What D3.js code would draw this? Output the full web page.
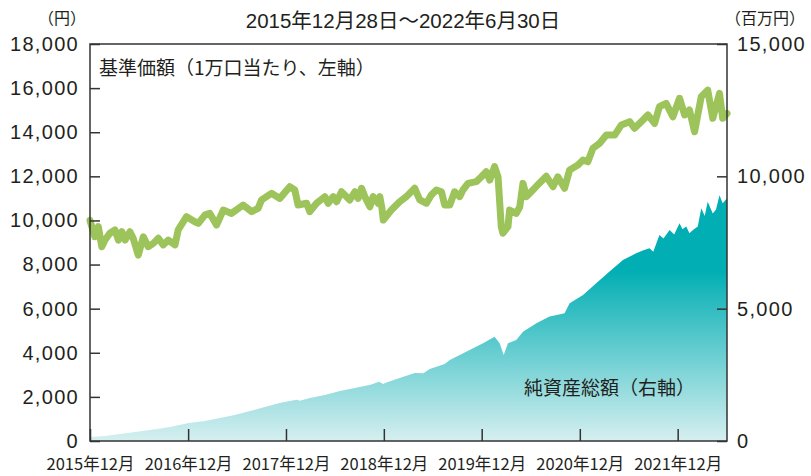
<!DOCTYPE html>
<html lang="ja">
<head>
<meta charset="utf-8">
<script src="https://cdn.jsdelivr.net/npm/d3@7"></script>
<style>
body { margin: 0; background: #fff; }
text { font-family: "Liberation Sans", "Noto Sans CJK JP", sans-serif; fill: #231f20; }
</style>
</head>
<body>
<div id="graphContainer"></div>
<script>
// 基準価額（1万口当たり） 円
let priceDates = ["2015-12-28","2016-01-15","2016-01-28","2016-02-10","2016-02-22","2016-03-11","2016-03-30","2016-04-12","2016-04-25","2016-05-07",
  "2016-05-25","2016-06-06","2016-06-25","2016-07-14","2016-08-01","2016-08-20","2016-09-08","2016-09-26","2016-10-15","2016-11-09",
  "2016-11-21","2016-12-22","2017-01-22","2017-02-04","2017-03-01","2017-03-19","2017-04-13","2017-05-08","2017-06-08","2017-07-21",
  "2017-08-22","2017-09-15","2017-09-28","2017-11-04","2017-12-05","2018-01-11","2018-01-30","2018-02-11","2018-03-15","2018-03-27",
  "2018-04-21","2018-05-22","2018-06-03","2018-06-22","2018-07-05","2018-07-23","2018-08-23","2018-09-11","2018-09-23","2018-10-06",
  "2018-10-18","2018-11-06","2018-11-18","2018-12-07","2018-12-13","2018-12-21","2018-12-26","2019-01-25","2019-02-25","2019-03-22",
  "2019-04-22","2019-05-11","2019-06-05","2019-06-23","2019-07-12","2019-07-31","2019-08-12","2019-08-31","2019-09-18","2019-10-07",
  "2019-10-19","2019-11-07","2019-12-08","2019-12-27","2020-01-14","2020-01-27","2020-02-14","2020-02-27","2020-03-10","2020-03-16",
  "2020-04-04","2020-04-10","2020-05-05","2020-05-18","2020-05-30","2020-06-12","2020-07-06","2020-07-31","2020-08-25","2020-09-19",
  "2020-10-07","2020-11-01","2020-11-20","2020-12-21","2021-01-09","2021-01-27","2021-02-15","2021-03-12","2021-04-06","2021-05-07",
  "2021-06-01","2021-07-02","2021-07-20","2021-08-14","2021-09-08","2021-10-03","2021-10-21","2021-11-15","2021-12-10","2022-01-04",
  "2022-01-23","2022-02-10","2022-03-01","2022-03-26","2022-04-19","2022-05-08","2022-06-02","2022-06-14","2022-06-30"];
let priceValues = [10000,9260,9720,8810,9110,9420,9570,9110,9490,9110,
  9490,9190,8430,9260,8810,8960,9190,8890,9110,8890,
  9570,10170,9940,9870,10250,10320,9790,10470,10320,10700,
  10400,10550,10930,11230,11000,11530,11380,10700,10780,10400,
  10780,11080,10780,11080,10850,11300,10930,11300,11000,11460,
  11080,10620,11080,10780,11080,10550,10020,10470,10850,11080,
  11460,10930,10780,11150,11380,11300,10700,10700,11300,11080,
  11380,11680,11760,11980,12210,11830,12440,11980,9720,9420,
  9720,10470,10320,10620,11680,11080,11380,11700,12000,11530,
  11980,11460,12290,12510,12740,12660,13270,13500,13870,13870,
  14330,14480,14180,14480,14780,14400,15160,15310,14700,15540,
  14780,15010,14020,15610,15910,14630,15760,14630,14850];

// 純資産総額 百万円
let assetDates = ["2015-12-28","2016-02-22","2016-04-19","2016-06-14","2016-08-08","2016-10-22","2016-12-30","2017-03-01","2017-04-26","2017-06-20",
  "2017-08-16","2017-10-10","2017-12-05","2018-01-11","2018-02-07","2018-02-17","2018-03-27","2018-05-22","2018-07-17","2018-09-11",
  "2018-10-20","2018-11-06","2018-12-10","2018-12-26","2019-01-04","2019-02-25","2019-04-22","2019-05-25","2019-06-17","2019-08-12",
  "2019-08-31","2019-10-07","2019-11-13","2020-01-02","2020-02-14","2020-03-04","2020-03-19","2020-04-04","2020-05-05","2020-05-30",
  "2020-07-19","2020-09-06","2020-10-20","2020-11-01","2020-11-20","2021-01-09","2021-02-27","2021-04-18","2021-06-07","2021-07-26",
  "2021-08-20","2021-09-14","2021-09-28","2021-10-21","2021-11-05","2021-11-28","2021-12-15","2022-01-04","2022-01-15","2022-01-29",
  "2022-02-10","2022-02-23","2022-03-13","2022-03-26","2022-04-08","2022-04-19","2022-05-08","2022-05-20","2022-06-02","2022-06-14",
  "2022-06-30"];
let assetValues = [150,190,260,340,420,530,680,760,870,980,
  1130,1280,1440,1510,1560,1520,1620,1740,1890,2000,
  2090,2120,2240,2150,2200,2380,2570,2560,2720,2910,
  3060,3250,3440,3690,3940,3690,3250,3690,3815,4130,
  4445,4700,4800,4825,5200,5515,5960,6400,6840,7090,
  7200,7280,7150,7780,7650,7970,7800,8225,8000,8100,
  7850,7970,8100,8790,8500,9040,8600,8750,9290,8980,
  9170];

let xTickDates = ["2015-12-28","2016-12-28","2017-12-28","2018-12-28","2019-12-28","2020-12-28","2021-12-28"];
let xTickLabels = ["2015年12月","2016年12月","2017年12月","2018年12月","2019年12月","2020年12月","2021年12月"];
let leftTicks = [0,2000,4000,6000,8000,10000,12000,14000,16000,18000];
let rightTicks = [0,5000,10000,15000];

function draw() {
    let width = 811;
    let height = 476;
    let left = 90, right = 727, top = 44, bottom = 441;
    let parse = d3.timeParse("%Y-%m-%d");

    let svg = d3.select("#graphContainer").append("svg")
        .attr("width", width)
        .attr("height", height);

    let x = d3.scaleTime()
        .domain([parse("2015-12-28"), parse("2022-06-30")])
        .range([left, right]);
    let yL = d3.scaleLinear().domain([0, 18000]).range([bottom, top]);
    let yR = d3.scaleLinear().domain([0, 15000]).range([bottom, top]);

    // グラデーション（純資産総額）
    let grad = svg.append("defs").append("linearGradient")
        .attr("id", "assetGrad")
        .attr("gradientUnits", "userSpaceOnUse")
        .attr("x1", 0).attr("x2", 0)
        .attr("y1", 270).attr("y2", bottom);
    grad.append("stop").attr("offset", "0%").attr("stop-color", "#00aeb3");
    grad.append("stop").attr("offset", "100%").attr("stop-color", "#d6eff0");

    let assets = assetDates.map((d, i) => [parse(d), assetValues[i]]);
    let area = d3.area()
        .x(d => x(d[0]))
        .y0(bottom)
        .y1(d => yR(d[1]));
    svg.append("path")
        .datum(assets)
        .attr("d", area)
        .attr("fill", "url(#assetGrad)");

    let prices = priceDates.map((d, i) => [parse(d), priceValues[i]]);
    let line = d3.line()
        .x(d => x(d[0]))
        .y(d => yL(d[1]));
    svg.append("path")
        .datum(prices)
        .attr("d", line)
        .attr("fill", "none")
        .attr("stroke", "#9dc45a")
        .attr("stroke-width", 7)
        .attr("stroke-linejoin", "round")
        .attr("stroke-linecap", "round");

    // 枠
    svg.append("rect")
        .attr("x", left).attr("y", top)
        .attr("width", right - left).attr("height", bottom - top)
        .attr("fill", "none")
        .attr("stroke", "#333")
        .attr("stroke-width", 1.5);

    // 軸
    let gL = svg.append("g")
        .attr("transform", `translate(${left},0)`)
        .call(d3.axisLeft(yL).tickValues(leftTicks).tickSize(-10).tickPadding(11).tickFormat(d3.format(",")));
    let gR = svg.append("g")
        .attr("transform", `translate(${right},0)`)
        .call(d3.axisRight(yR).tickValues(rightTicks).tickSize(-10).tickPadding(10).tickFormat(d3.format(",")));
    let gB = svg.append("g")
        .attr("transform", `translate(0,${bottom})`)
        .call(d3.axisBottom(x).tickValues(xTickDates.map(parse)).tickSize(-12).tickPadding(17)
            .tickFormat((d, i) => xTickLabels[i]));

    [gL, gR, gB].forEach(g => {
        g.select(".domain").remove();
        g.selectAll("line").attr("stroke", "#333").attr("stroke-width", 1.5);
        g.selectAll("text").attr("fill", "#231f20");
    });
    gL.selectAll("text").style("font-family", "'Liberation Sans', sans-serif").style("font-size", "20px").style("letter-spacing", "1.3px");
    gR.selectAll("text").style("font-family", "'Liberation Sans', sans-serif").style("font-size", "20px").style("letter-spacing", "1.3px");
    gB.selectAll("text").style("font-family", "'Noto Sans CJK JP', sans-serif").style("font-size", "16.5px");

    // テキスト
    svg.append("text").attr("x", 403).attr("y", 28).attr("text-anchor", "middle")
        .style("font-size", "20.5px").text("2015年12月28日～2022年6月30日");
    svg.append("text").attr("x", 62).attr("y", 24).attr("text-anchor", "middle")
        .style("font-family", "'Noto Sans CJK JP', sans-serif")
        .style("font-size", "16px").text("（円）");
    svg.append("text").attr("x", 765).attr("y", 24).attr("text-anchor", "middle")
        .style("font-family", "'Noto Sans CJK JP', sans-serif")
        .style("font-size", "16px").text("（百万円）");
    svg.append("text").attr("x", 99).attr("y", 75)
        .style("font-family", "'Noto Sans CJK JP', sans-serif")
        .style("font-size", "19px").text("基準価額（1万口当たり、左軸）");
    svg.append("text").attr("x", 524).attr("y", 395)
        .style("font-family", "'Noto Sans CJK JP', sans-serif")
        .style("font-size", "19px").text("純資産総額（右軸）");
}

draw();
</script>
</body>
</html>
